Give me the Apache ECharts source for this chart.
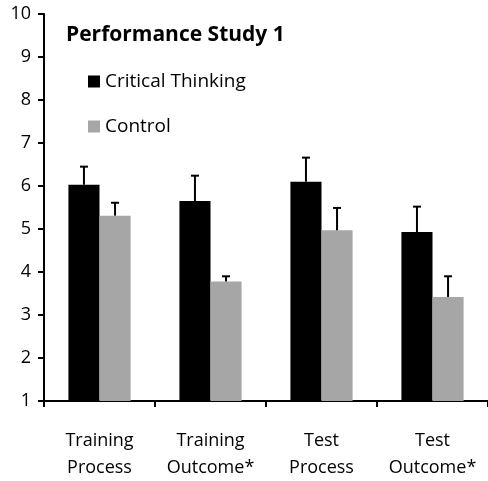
<!DOCTYPE html>
<html>
<head>
<meta charset="utf-8">
<script src="https://cdn.jsdelivr.net/npm/echarts@6/dist/echarts.min.js"></script>
<style>
  html, body { margin: 0; padding: 0; background: #fff; }
  #chart { width: 488px; height: 481px; }
</style>
</head>
<body>
<div id="chart"></div>
<script>
var categories = ['Training\nProcess', 'Training\nOutcome*', 'Test\nProcess', 'Test\nOutcome*']
var criticalThinking = [6.03, 5.65, 6.1, 4.93]
var control = [5.31, 3.78, 4.97, 3.42]
// upper error bar lengths
var criticalErr = [0.42, 0.59, 0.56, 0.59]
var controlErr = [0.3, 0.12, 0.52, 0.48]

;(function () {
  var myChart = echarts.init(document.getElementById('chart'))
  var font = '"Open Sans", "Liberation Sans", sans-serif'
  var catGap = 0.44

  // 误差线：只画上半部分 + 小横帽
  function errRender(side, errs) {
    return function (params, api) {
      var idx = api.value(0)
      var top = api.value(1) + errs[idx]
      var base = api.coord([idx, api.value(1)])
      var band = api.size([1, 0])[0]
      var bw = band * (1 - catGap) / 2
      var x = base[0] + side * bw / 2
      var yTop = api.coord([idx, top])[1]
      var style = { stroke: '#000', lineWidth: 2 }
      return {
        type: 'group',
        children: [
          { type: 'line', shape: { x1: x, y1: base[1], x2: x, y2: yTop }, style: style },
          { type: 'line', shape: { x1: x - 4, y1: yTop, x2: x + 4, y2: yTop }, style: style }
        ]
      }
    }
  }

  var option = {
    animation: false,
    title: {
      text: 'Performance Study 1',
      left: 61,
      top: 20,
      textStyle: { fontFamily: font, fontSize: 21, fontWeight: 'bold', color: '#000' }
    },
    legend: {
      data: ['Critical Thinking', 'Control'],
      orient: 'vertical',
      left: 83,
      top: 67,
      icon: 'rect',
      itemWidth: 12,
      itemHeight: 12,
      itemGap: 26,
      textStyle: { fontFamily: font, fontSize: 19, color: '#000' }
    },
    grid: {
      left: 44,
      right: 0,
      top: 14,
      bottom: 78
    },
    xAxis: {
      type: 'category',
      data: categories,
      axisLine: { lineStyle: { color: '#000', width: 2 } },
      axisTick: { show: true, interval: 0, length: 6, lineStyle: { color: '#000', width: 2 } },
      axisLabel: {
        interval: 0,
        hideOverlap: false,
        fontFamily: font,
        fontSize: 18,
        color: '#000',
        margin: 26,
        lineHeight: 27
      }
    },
    yAxis: {
      type: 'value',
      min: 1,
      max: 10,
      interval: 1,
      axisLine: { show: true, lineStyle: { color: '#000', width: 2 } },
      axisTick: { show: true, length: 6, lineStyle: { color: '#000', width: 2 } },
      splitLine: { show: false },
      axisLabel: { fontFamily: font, fontSize: 18, color: '#000', margin: 13 }
    },
    series: [
      {
        name: 'Critical Thinking',
        type: 'bar',
        data: criticalThinking,
        barGap: 0,
        barCategoryGap: catGap * 100 + '%',
        itemStyle: { color: '#000' }
      },
      {
        name: 'Control',
        type: 'bar',
        data: control,
        barGap: 0,
        barCategoryGap: catGap * 100 + '%',
        itemStyle: { color: '#a6a6a6' }
      },
      {
        type: 'custom',
        renderItem: errRender(-1, criticalErr),
        data: criticalThinking.map(function (v, i) { return [i, v] }),
        z: 5
      },
      {
        type: 'custom',
        renderItem: errRender(1, controlErr),
        data: control.map(function (v, i) { return [i, v] }),
        z: 5
      }
    ]
  }

  myChart.setOption(option)
  window.addEventListener('resize', function () {
    myChart.resize()
  })
})()
</script>
</body>
</html>
